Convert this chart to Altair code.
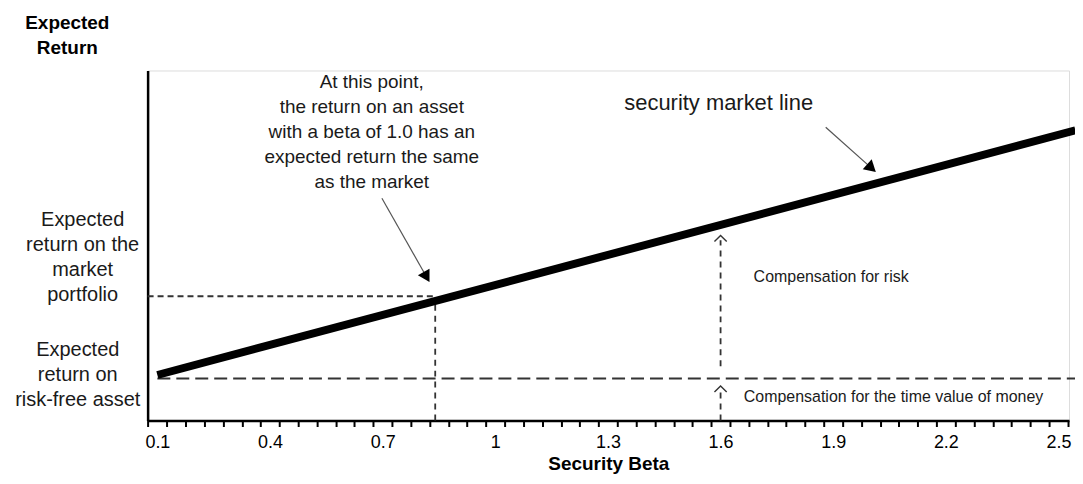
import altair as alt
import pandas as pd

# ---- values (beta on x, expected return in arbitrary units on y)
SML_BETA = [0.1, 2.545]
SML_RETURN = [1.3, 8.29]

RISK_FREE_RETURN = 1.2
RF_LINE_BETA = [0.1, 2.55]

MARKET_BETA = 0.84
MARKET_RETURN = 3.55
MARKET_LINE_RETURN = 3.45
AXIS_START_BETA = 0.074

RISK_BETA = 1.6
RISK_ARROW_RETURN = [1.55, 5.15]
TIME_ARROW_RETURN = [0.0, 0.85]
CHEVRON_RETURN = [5.2, 0.9]

X_LABELS = [0.1, 0.4, 0.7, 1.0, 1.3, 1.6, 1.9, 2.2, 2.5]
X_TICKS = [round(0.075 + 0.05 * k, 3) for k in range(50)]
X_DOMAIN = [0.074, 2.528]
Y_DOMAIN = [0, 10]

# annotation arrows: tail (beta, return) -> head (beta, return)
ARROW_TAIL_BETA = [0.698, 1.880]
ARROW_TAIL_RET = [6.35, 8.38]
ARROW_HEAD_BETA = [0.817, 2.002]
ARROW_HEAD_RET = [4.10, 7.21]

NOTE_TEXT = "At this point,\nthe return on an asset\nwith a beta of 1.0 has an\nexpected return the same\nas the market"
NOTE_POS = (0.671, 9.66)
SML_LABEL = "security market line"
SML_LABEL_POS = (1.595, 9.06)
RISK_LABEL = "Compensation for risk"
RISK_LABEL_POS = (1.688, 4.10)
TIME_LABEL = "Compensation for the time value of money"
TIME_LABEL_POS = (1.662, 0.68)
Y_LABELS = ["Expected\nreturn on the\nmarket\nportfolio", "Expected\nreturn on\nrisk-free asset"]
Y_LABEL_BETA = [-0.099, -0.112]
Y_LABEL_RET = [5.73, 2.02]

FONT = "Liberation Sans"
xs = alt.Scale(domain=X_DOMAIN, nice=False, zero=False)
ys = alt.Scale(domain=Y_DOMAIN, nice=False, zero=False)

label_axis = alt.Axis(
    orient="bottom", values=X_LABELS, labelExpr="format(datum.value, '~g')",
    ticks=False, tickSize=0, labelPadding=13, labelFontSize=18, labelFont=FONT,
    labelColor="black", labelOverlap=False, labelFlush=False,
    domainColor="black", domainWidth=2.5, grid=False,
    title="Security Beta", titleFontSize=19, titleFont=FONT, titleFontWeight="bold",
    titleColor="black", titleY=43, titleBaseline="middle",
)
tick_axis = alt.Axis(
    orient="bottom", values=X_TICKS, labels=False, ticks=True, tickSize=6,
    tickWidth=2, tickColor="black", domain=False, grid=False, title=None,
)
y_axis = alt.Axis(
    ticks=False, labels=False, grid=False, domainColor="black", domainWidth=2.5,
    title=["Expected", "Return"], titleAngle=0, titleAlign="center", titleBaseline="top",
    titleX=-81, titleY=-57, titleFontSize=19, titleFont=FONT, titleFontWeight="bold",
    titleColor="black", titleLineHeight=25,
)

sml = alt.Chart(pd.DataFrame({"beta": SML_BETA, "ret": SML_RETURN})).mark_line(
    color="black", strokeWidth=8, strokeCap="butt", clip=False
).encode(
    x=alt.X("beta:Q", scale=xs, axis=label_axis),
    y=alt.Y("ret:Q", scale=ys, axis=y_axis),
)

rf = alt.Chart(pd.DataFrame({"b1": [RF_LINE_BETA[0]], "b2": [RF_LINE_BETA[1]], "r": [RISK_FREE_RETURN]})).mark_rule(
    color="#333333", strokeWidth=2, strokeDash=[13, 6], clip=False
).encode(
    x=alt.X("b1:Q", scale=xs, axis=tick_axis), x2="b2:Q",
    y=alt.Y("r:Q", scale=ys, axis=None),
)

mkt_h = alt.Chart(pd.DataFrame({"b1": [AXIS_START_BETA], "b2": [MARKET_BETA], "r": [MARKET_RETURN]})).mark_rule(
    color="#333333", strokeWidth=1.8, strokeDash=[6, 4]
).encode(
    x=alt.X("b1:Q", scale=xs, axis=None), x2="b2:Q",
    y=alt.Y("r:Q", scale=ys, axis=None),
)

vdf = pd.DataFrame({
    "b": [MARKET_BETA, RISK_BETA, RISK_BETA],
    "r1": [0.0, RISK_ARROW_RETURN[0], TIME_ARROW_RETURN[0]],
    "r2": [MARKET_LINE_RETURN, RISK_ARROW_RETURN[1], TIME_ARROW_RETURN[1]],
})
verticals = alt.Chart(vdf).mark_rule(color="#333333", strokeWidth=1.8, strokeDash=[6, 5]).encode(
    x=alt.X("b:Q", scale=xs, axis=None),
    y=alt.Y("r1:Q", scale=ys, axis=None), y2="r2:Q",
)

chev = alt.Chart(pd.DataFrame({"b": [RISK_BETA, RISK_BETA], "r": CHEVRON_RETURN})).mark_point(
    shape="M-1,0.5L0,-0.5L1,0.5", filled=False, size=150, color="#333333", strokeWidth=1.4, opacity=1
).encode(
    x=alt.X("b:Q", scale=xs, axis=None),
    y=alt.Y("r:Q", scale=ys, axis=None),
)

adf = pd.DataFrame({"b1": ARROW_TAIL_BETA, "r1": ARROW_TAIL_RET, "b2": ARROW_HEAD_BETA, "r2": ARROW_HEAD_RET,
                    "ang": [150, 132]})
shafts = alt.Chart(adf).mark_rule(color="#555555", strokeWidth=1.2).encode(
    x=alt.X("b1:Q", scale=xs, axis=None), x2="b2:Q",
    y=alt.Y("r1:Q", scale=ys, axis=None), y2="r2:Q",
)
heads = alt.Chart(adf).mark_point(shape="triangle-up", filled=True, size=180, color="black", opacity=1).encode(
    x=alt.X("b2:Q", scale=xs, axis=None),
    y=alt.Y("r2:Q", scale=ys, axis=None),
    angle=alt.Angle("ang:Q", scale=None),
)

def text_layer(texts, bs, rs, size, align, line_height=25):
    df = pd.DataFrame({"t": texts, "b": bs, "r": rs})
    return alt.Chart(df).mark_text(
        font=FONT, fontSize=size, align=align, baseline="middle", lineBreak="\n",
        lineHeight=line_height, color="#1a1a1a", clip=False
    ).encode(
        x=alt.X("b:Q", scale=xs, axis=None),
        y=alt.Y("r:Q", scale=ys, axis=None),
        text="t:N",
    )

note = text_layer([NOTE_TEXT], [NOTE_POS[0]], [NOTE_POS[1]], 19, "center")
sml_lab = text_layer([SML_LABEL], [SML_LABEL_POS[0]], [SML_LABEL_POS[1]], 22, "center")
comp = text_layer([RISK_LABEL, TIME_LABEL], [RISK_LABEL_POS[0], TIME_LABEL_POS[0]],
                  [RISK_LABEL_POS[1], TIME_LABEL_POS[1]], 16, "left")
ylabs = text_layer(Y_LABELS, Y_LABEL_BETA, Y_LABEL_RET, 20, "center")

chart = alt.layer(
    rf, mkt_h, verticals, chev, shafts, heads, sml, note, sml_lab, comp, ylabs
).resolve_axis(x="independent", y="independent").properties(
    width=924, height=351,
    padding={"left": 140, "top": 62, "right": 6, "bottom": 54},
    autosize=alt.AutoSizeParams(type="none"),
).configure_view(stroke=None).configure(font=FONT, background="white")

chart.save("out.html", embed_options={"renderer": "svg", "actions": False})
